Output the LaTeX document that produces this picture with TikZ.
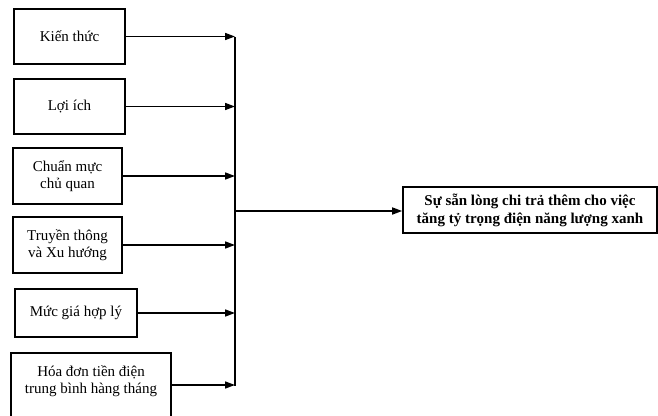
\documentclass[tikz,border=0pt]{standalone}
\usepackage{fontspec}
\setmainfont{Liberation Serif}
\usetikzlibrary{arrows.meta,positioning}
\tikzset{
  block/.style={draw=black,line width=1.6pt,align=center,inner sep=2pt,
                font=\fontsize{15}{17}\selectfont},
  flow/.style={-{Triangle[length=10pt,width=7pt]},draw=black,line width=1.6pt}
}

\begin{document}
\begin{tikzpicture}[
  x=1pt,y=-1pt,
  factor/.style={block,minimum width=111pt,minimum height=55pt},
  outcome/.style={block,minimum width=254pt,minimum height=46pt,
                  font=\fontsize{15}{18}\selectfont\bfseries}
]
  \useasboundingbox (0,0) rectangle (658,415);
  \node[factor] (know) at (69.5,36.5) {Kiến thức};
  \node[factor] (gain) at (69.5,106.5) {Lợi ích};
  \node[factor,minimum width=109pt,minimum height=56pt] (norm) at (67.5,176)
    {Chuẩn mực\\chủ quan};
  \node[factor,minimum width=109pt,minimum height=56pt] (media) at (67.5,245)
    {Truyền thông\\và Xu hướng};
  \node[factor,minimum width=122pt,minimum height=48pt] (price) at (76,313)
    {Mức giá hợp lý};
  % last box runs off the lower edge of the page
  \node[factor,minimum width=160pt,anchor=north,inner ysep=12pt,
        text height=29pt,text depth=50pt] (bill) at (91,352)
    {Hóa đơn tiền điện\\trung bình hàng tháng};
  \node[outcome] (wtp) at (530,210)
    {Sự sẵn lòng chi trả thêm cho việc\\tăng tỷ trọng điện năng lượng xanh};

  \coordinate (bartop) at (235,37);
  \coordinate (barbot) at (235,386);
  \coordinate (barmid) at (235,211);
  \draw[line width=1.6pt] (bartop) -- (barbot);
  \foreach \a in {know,gain,norm,media,price}
    \draw[flow] (\a.east) -- (\a.east -| bartop);
  \draw[flow] ([yshift=-33pt]bill.north east) -- ([yshift=-33pt]bill.north east -| bartop);
  \draw[flow] (barmid) -- (barmid -| wtp.west);
\end{tikzpicture}
\end{document}
